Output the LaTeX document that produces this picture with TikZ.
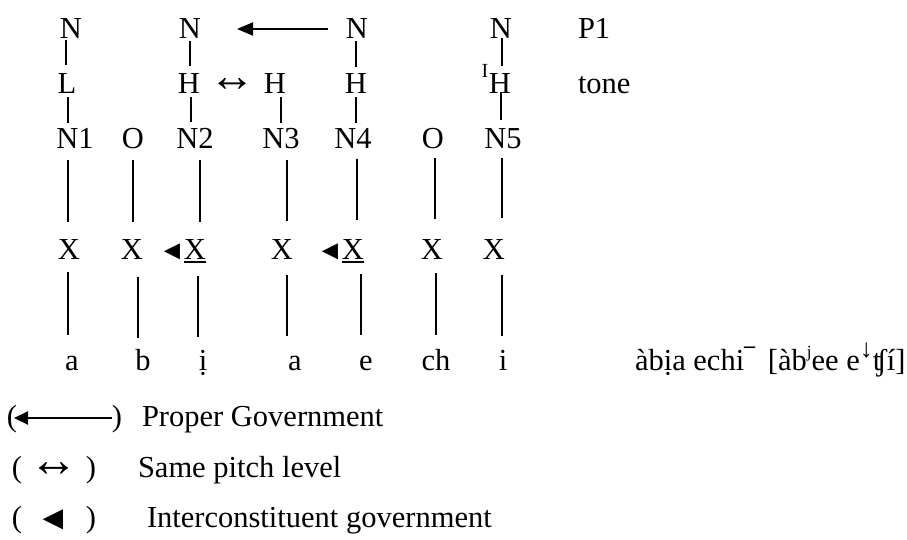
\documentclass[tikz,border=0pt]{standalone}
\usepackage{fontspec}
\setmainfont{Liberation Serif}
\usetikzlibrary{calc,arrows.meta}

% association line between two tiers: node, dx, dy, node, dx, dy (offsets from baselines)
\newcommand\tlink[6]{\draw[tierline] ($(#1.base)+(#2,#3)$) -- ($(#4.base)+(#5,#6)$);}
% small raised mark in the transcription
\newcommand\upmark[2]{\raisebox{#1}{\fontsize{17}{17}\selectfont #2}}

\begin{document}
\begin{tikzpicture}[x=1pt,y=-1pt,
  every node/.style={inner sep=0pt, outer sep=0pt, anchor=base,
    font=\fontsize{30.5}{36}\selectfont},
  lbl/.style={anchor=base west},
  tierline/.style={line width=1.5pt},
  govarrow/.style={line width=2pt, -{Triangle[length=16pt,width=13pt]}},
  keyarrow/.style={line width=2pt, -{Triangle[length=14pt,width=13pt]}},
  pointer/.style={anchor=center, font=\fontsize{27}{27}\selectfont},
  samepitch/.style={anchor=center, font=\fontsize{46}{46}\selectfont},
]
\useasboundingbox (0,0) rectangle (907,539);

% P1 tier
\node (n1a) at (71,38) {N};
\node (n2a) at (190,38) {N};
\node (n4a) at (357,38) {N};
\node (n5a) at (501,38) {N};
\node[lbl] (p1) at (578,38) {P1};

% tone tier
\node (t1) at (67,93) {L};
\node (t2) at (189,93) {H};
\node[samepitch] (same) at (232,85) {↔};
\node (t3) at (275,93) {H};
\node (t4) at (356,93) {H};
\node (t5) at (500,93) {H};
\node[font=\fontsize{20}{24}\selectfont] (t5mark) at (485,77) {I};
\node[lbl] (tone) at (578,93) {tone};

% constituents
\node (c1) at (75,148) {N1};
\node (o1) at (133,148) {O};
\node (c2) at (195,148) {N2};
\node (c3) at (281,148) {N3};
\node (c4) at (353,148) {N4};
\node (o2) at (433,148) {O};
\node (c5) at (503,148) {N5};

% skeletal tier
\node (x1) at (69,259) {X};
\node (x2) at (132,259) {X};
\node[pointer] (g1) at (172,252) {◄};
\node (x3) at (195,259) {X};
\node (x4) at (282,259) {X};
\node[pointer] (g2) at (330,252) {◄};
\node (x5) at (353,259) {X};
\node (x6) at (432,259) {X};
\node (x7) at (494,259) {X};
\draw[tierline] ($(x3.base)+(-11,3)$) -- ($(x3.base)+(11,3)$);
\draw[tierline] ($(x5.base)+(-11,3)$) -- ($(x5.base)+(11,3)$);

% segments
\node (s1) at (72,370) {a};
\node (s2) at (143,370) {b};
\node (s3) at (203,370) {ị};
\node (s4) at (295,370) {a};
\node (s5) at (366,370) {e};
\node (s6) at (436,370) {ch};
\node (s7) at (503,370) {i};
\node[lbl] (gloss) at (635,370) {àbịa echi\raisebox{7pt}{\fontsize{22}{22}\selectfont\bfseries ¯}\, [àb\upmark{0.42em}{j}ee e\raisebox{0.42em}{\fontsize{26}{26}\selectfont ↓}ʧí]};

% proper government
\draw[govarrow] ($(n4a.base)+(-29,-9)$) -- ($(n2a.base)+(47,-9)$);

% P1 -- tone
\tlink{n1a}{-5}{2}{t1}{-1}{-28}
\tlink{n2a}{0}{3}{t2}{1}{-27}
\tlink{n4a}{-1}{3}{t4}{0}{-26}
\tlink{n5a}{1}{0}{t5}{2}{-27}

% tone -- constituents
\tlink{t1}{1}{4}{c1}{-7}{-25}
\tlink{t2}{2}{4}{c2}{-4}{-26}
\tlink{t3}{6}{4}{c3}{0}{-25}
\tlink{t4}{0}{4}{c4}{3}{-25}
\tlink{t5}{1}{-1}{c5}{-2}{-28}

% constituents -- skeleton
\tlink{c1}{-7}{12}{x1}{-1}{-37}
\tlink{o1}{0}{12}{x2}{1}{-37}
\tlink{c2}{5}{12}{x3}{5}{-37}
\tlink{c3}{6}{12}{x4}{5}{-38}
\tlink{c4}{4}{11}{x5}{4}{-39}
\tlink{o2}{2}{10}{x6}{3}{-40}
\tlink{c5}{-1}{10}{x7}{8}{-41}

% skeleton -- segments
\tlink{x1}{-1}{13}{s1}{-4}{-35}
\tlink{x2}{6}{18}{s2}{-5}{-32}
\tlink{x3}{3}{17}{s3}{-5}{-33}
\tlink{x4}{5}{16}{s4}{-8}{-34}
\tlink{x5}{8}{15}{s5}{-5}{-35}
\tlink{x6}{4}{14}{s6}{0}{-35}
\tlink{x7}{8}{16}{s7}{-1}{-34}

% key
\node (lp1) at (12,426) {(};
\node (rp1) at (117,426) {)};
\draw[keyarrow] ($(rp1.base)+(-5,-8)$) -- ($(lp1.base)+(2,-8)$);
\node[lbl] (k1) at (142,426) {Proper Government};

\node (lp2) at (17,477) {(};
\node[samepitch, font=\fontsize{49}{49}\selectfont] (k2sym) at (54,470) {↔};
\node (rp2) at (91,477) {)};
\node[lbl] (k2) at (138,477) {Same pitch level};

\node (lp3) at (17,527) {(};
\node[pointer, font=\fontsize{34}{34}\selectfont] (k3sym) at (53,520) {◄};
\node (rp3) at (91,527) {)};
\node[lbl] (k3) at (147,527) {Interconstituent government};
\end{tikzpicture}
\end{document}
